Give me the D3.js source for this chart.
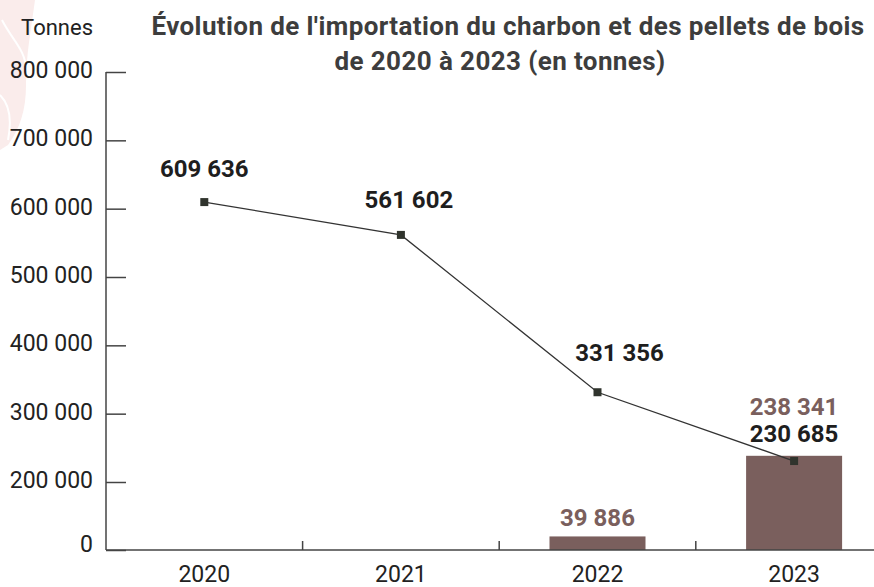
<!DOCTYPE html>
<html>
<head>
<meta charset="utf-8">
<script src="https://cdn.jsdelivr.net/npm/d3@7"></script>
<style>
  body { margin: 0; background: #fff; }
  svg { display: block; font-family: Roboto, "Noto Sans", sans-serif; }
</style>
</head>
<body>
<svg id="chart"></svg>
<script>
const years = ["2020", "2021", "2022", "2023"];
const charbon = [609636, 561602, 331356, 230685];
const pellets = [null, null, 39886, 238341];
const yTicks = [0, 200000, 300000, 400000, 500000, 600000, 700000, 800000];

const W = 874, H = 587;
const svg = d3.select("#chart").attr("width", W).attr("height", H);

// faint decorative shape top-left
svg.append("path")
    .attr("d", "M0,0 L35,0 C31,30 26,55 26,85 C26,110 20,128 8,145 L0,150 Z")
    .attr("fill", "#faeceb");
svg.append("path")
    .attr("d", "M2,20 C12,40 26,50 26,70")
    .attr("fill", "none").attr("stroke", "#fff").attr("stroke-width", 2);
svg.append("path")
    .attr("d", "M0,95 C10,105 12,120 8,140")
    .attr("fill", "none").attr("stroke", "#fff").attr("stroke-width", 2);

const x = d3.scaleBand().domain(years).range([106, 106 + 4 * 196.6]);
// broken axis: 0 -> 200 000 takes one step, like the others
const y = d3.scaleLinear().domain([0, 200000, 800000]).range([550, 482, 72]);

const fmt = v => d3.format(",")(v).replace(/,/g, " ");

// bars (pellets)
const barData = years.map((yr, i) => ({ yr, v: pellets[i] })).filter(d => d.v != null);
svg.selectAll(".bar")
    .data(barData)
  .enter().append("rect")
    .attr("class", "bar")
    .attr("x", d => x(d.yr) + x.bandwidth() / 2 - 48)
    .attr("width", 96)
    .attr("y", d => y(d.v))
    .attr("height", d => y(0) - y(d.v))
    .attr("fill", "#7a5f5d");

// y axis
const yAxis = svg.append("g")
    .attr("transform", "translate(106,0)")
    .call(d3.axisRight(y).tickValues(yTicks).tickSize(20).tickFormat(""));
yAxis.select(".domain").attr("stroke", "#444").attr("stroke-width", 1.5)
    .attr("d", "M0," + y(800000) + "V" + y(0));
yAxis.selectAll(".tick line").attr("stroke", "#444").attr("stroke-width", 1.5);

svg.selectAll(".ylab")
    .data(yTicks)
  .enter().append("text")
    .attr("class", "ylab")
    .attr("x", 93)
    .attr("y", d => y(d) + (d === 0 ? 2 : 6))
    .attr("text-anchor", "end")
    .style("font-size", "23px")
    .style("fill", "#222")
    .text(d => fmt(d));

svg.append("text")
    .attr("x", 93).attr("y", 35)
    .attr("text-anchor", "end")
    .style("font-size", "22px")
    .style("fill", "#222")
    .text("Tonnes");

// x axis
svg.append("line")
    .attr("x1", 106).attr("x2", W)
    .attr("y1", y(0)).attr("y2", y(0))
    .attr("stroke", "#444").attr("stroke-width", 1.5);
svg.selectAll(".xtick")
    .data(years.slice(1))
  .enter().append("line")
    .attr("x1", d => x(d)).attr("x2", d => x(d))
    .attr("y1", y(0)).attr("y2", y(0) - 9)
    .attr("stroke", "#444").attr("stroke-width", 1.5);
svg.selectAll(".xlab")
    .data(years)
  .enter().append("text")
    .attr("x", d => x(d) + x.bandwidth() / 2)
    .attr("y", 582)
    .attr("text-anchor", "middle")
    .style("font-size", "23px")
    .style("fill", "#222")
    .text(d => d);

// line (charbon)
const pts = years.map((yr, i) => ({ yr, v: charbon[i], cx: x(yr) + x.bandwidth() / 2, cy: y(charbon[i]) }));
svg.append("path")
    .datum(pts)
    .attr("d", d3.line().x(d => d.cx).y(d => d.cy))
    .attr("fill", "none")
    .attr("stroke", "#333")
    .attr("stroke-width", 1.3);
svg.selectAll(".mark")
    .data(pts)
  .enter().append("rect")
    .attr("x", d => d.cx - 4).attr("y", d => d.cy - 4)
    .attr("width", 8).attr("height", 8)
    .attr("fill", "#30342d");

// value labels
const lineLabelShift = { "2020": [0, -25], "2021": [8, -27], "2022": [22, -31] };
svg.selectAll(".vlab")
    .data(pts)
  .enter().append("text")
    .attr("x", d => d.cx + (lineLabelShift[d.yr] ? lineLabelShift[d.yr][0] : 0))
    .attr("y", d => lineLabelShift[d.yr] ? d.cy + lineLabelShift[d.yr][1]
                                          : y(d3.max([d.v, pellets[years.indexOf(d.yr)]])) - 14)
    .attr("text-anchor", "middle")
    .style("font-size", "24px")
    .style("font-weight", "bold")
    .style("fill", "#1e1e1e")
    .text(d => fmt(d.v));

svg.selectAll(".blab")
    .data(barData)
  .enter().append("text")
    .attr("x", d => x(d.yr) + x.bandwidth() / 2)
    .attr("y", d => d.yr === "2023" ? y(d.v) - 41 : y(d.v) - 10)
    .attr("text-anchor", "middle")
    .style("font-size", "24px")
    .style("font-weight", "bold")
    .style("fill", "#7a5f5d")
    .text(d => fmt(d.v));

// title
const title = svg.append("text")
    .attr("text-anchor", "middle")
    .style("font-size", "26px")
    .style("font-weight", "bold")
    .style("letter-spacing", "0.4px")
    .style("fill", "#3d3d3d");
title.append("tspan").attr("x", 508).attr("y", 35)
    .text("Évolution de l'importation du charbon et des pellets de bois");
title.append("tspan").attr("x", 500).attr("y", 70)
    .text("de 2020 à 2023 (en tonnes)");
</script>
</body>
</html>
